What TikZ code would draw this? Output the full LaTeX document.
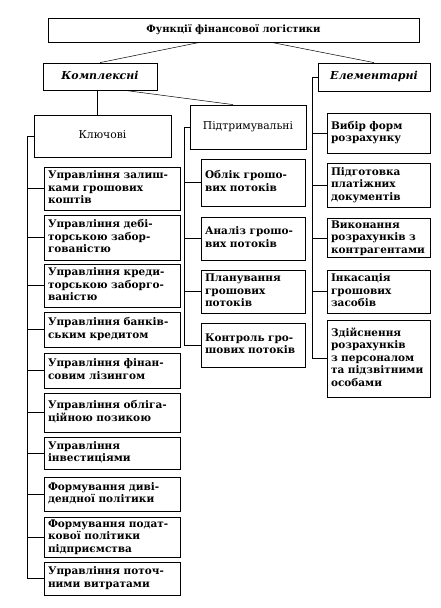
\documentclass[tikz,border=0pt]{standalone}
\usepackage{fontspec}
\setmainfont{DejaVu Serif}
\tikzset{
  box/.style={draw, line width=0.8pt, inner xsep=4pt, inner ysep=1pt, align=left,
    font=\fontsize{10.5}{12.5}\selectfont\bfseries},
  head/.style={align=center, font=\fontsize{10.8}{12.5}\selectfont},
  cat/.style={align=center, font=\fontsize{11}{12.5}\selectfont\bfseries\itshape},
  conn/.style={line width=0.5pt},
}
\newcommand\mybox[7][]{%
  \node[box, text width={(#5-#3-8)*1pt}, minimum height={(#6-#4)*1pt}, #1]
    (#2) at ({(#3+#5)/2},{(#4+#6)/2}) {\begin{tabular}{@{}l@{}}#7\end{tabular}};}
\begin{document}
\begin{tikzpicture}[x=1pt,y=-1pt]
\useasboundingbox (0,0) rectangle (440,608);
% top levels
\mybox[align=center,font=\fontsize{10}{12}\selectfont\bfseries]{top}{48}{18}{419}{42}{Функції фінансової логістики}
\mybox[cat]{kompl}{43}{63}{157}{90}{Комплексні}
\mybox[cat]{elem}{318}{63}{430}{91}{Елементарні}
\mybox[head]{kluch}{34}{115}{171}{157}{Ключові}
\mybox[head]{pidtr}{190}{105}{306}{149}{Підтримувальні}
% key functions
\mybox{k1}{44}{167}{180}{210}{Управління залиш-\\ками грошових\\коштів}
\mybox{k2}{44}{215}{180}{260}{Управління дебі-\\торською забор-\\гованістю}
\mybox{k3}{44}{264}{180}{307}{Управління креди-\\торською заборго-\\ваністю}
\mybox{k4}{44}{312}{180}{347}{Управління банків-\\ським кредитом}
\mybox{k5}{44}{353}{180}{388}{Управління фінан-\\совим лізингом}
\mybox{k6}{44}{393}{180}{432}{Управління обліга-\\ційною позикою}
\mybox{k7}{44}{437}{180}{469}{Управління\\інвестиціями}
\mybox{k8}{44}{477}{180}{511}{Формування диві-\\дендної політики}
\mybox{k9}{44}{517}{180}{557}{Формування подат-\\кової політики\\підприємства}
\mybox{k10}{44}{562}{180}{595}{Управління поточ-\\ними витратами}
% supporting
\mybox{p1}{201}{159}{305}{206}{Облік грошо-\\вих потоків}
\mybox{p2}{201}{217}{305}{260}{Аналіз грошо-\\вих потоків}
\mybox{p3}{201}{270}{305}{313}{Планування\\грошових\\потоків}
\mybox{p4}{201}{323}{305}{367}{Контроль гро-\\шових потоків}
% elementary
\mybox{e1}{327}{113}{430}{153}{Вибір форм\\розрахунку}
\mybox{e2}{327}{163}{430}{207}{Підготовка\\платіжних\\документів}
\mybox{e3}{327}{219}{430}{257}{Виконання\\розрахунків з\\контрагентами}
\mybox{e4}{327}{270}{430}{313}{Інкасація\\грошових\\засобів}
\mybox{e5}{327}{320}{430}{397}{Здійснення\\розрахунків\\з персоналом\\та підзвітними\\особами}
% connectors
\draw[conn] ([xshift=-34pt]top.south) -- (kompl.north);
\draw[conn] ([xshift=38pt]top.south) -- (elem.north);
\draw[conn] ([xshift=-3pt]kompl.south) -- ([xshift=-3pt]kompl.south |- kluch.north);
\draw[conn] ([xshift=25pt]kompl.south) -- ([xshift=-15pt]pidtr.north);
% key branch
\draw[conn] (kluch.west) -- ++(-6pt,0) coordinate (kv);
\draw[conn] (kv) |- (k10.west);
\foreach \n in {k1,k2,k3,k4,k5,k6,k7,k8,k9}
  \draw[conn] (kv |- \n.west) -- (\n.west);
% supporting branch
\draw[conn] (pidtr.west) -- ++(-5pt,0) coordinate (pv);
\draw[conn] (pv) |- (p4.west);
\foreach \n in {p1,p2,p3}
  \draw[conn] (pv |- \n.west) -- (\n.west);
% elementary branch
\draw[conn] (elem.west) -- ++(-5pt,0) coordinate (ev);
\draw[conn] (ev) |- (e5.west);
\foreach \n in {e1,e2,e3,e4}
  \draw[conn] (ev |- \n.west) -- (\n.west);
\end{tikzpicture}
\end{document}
